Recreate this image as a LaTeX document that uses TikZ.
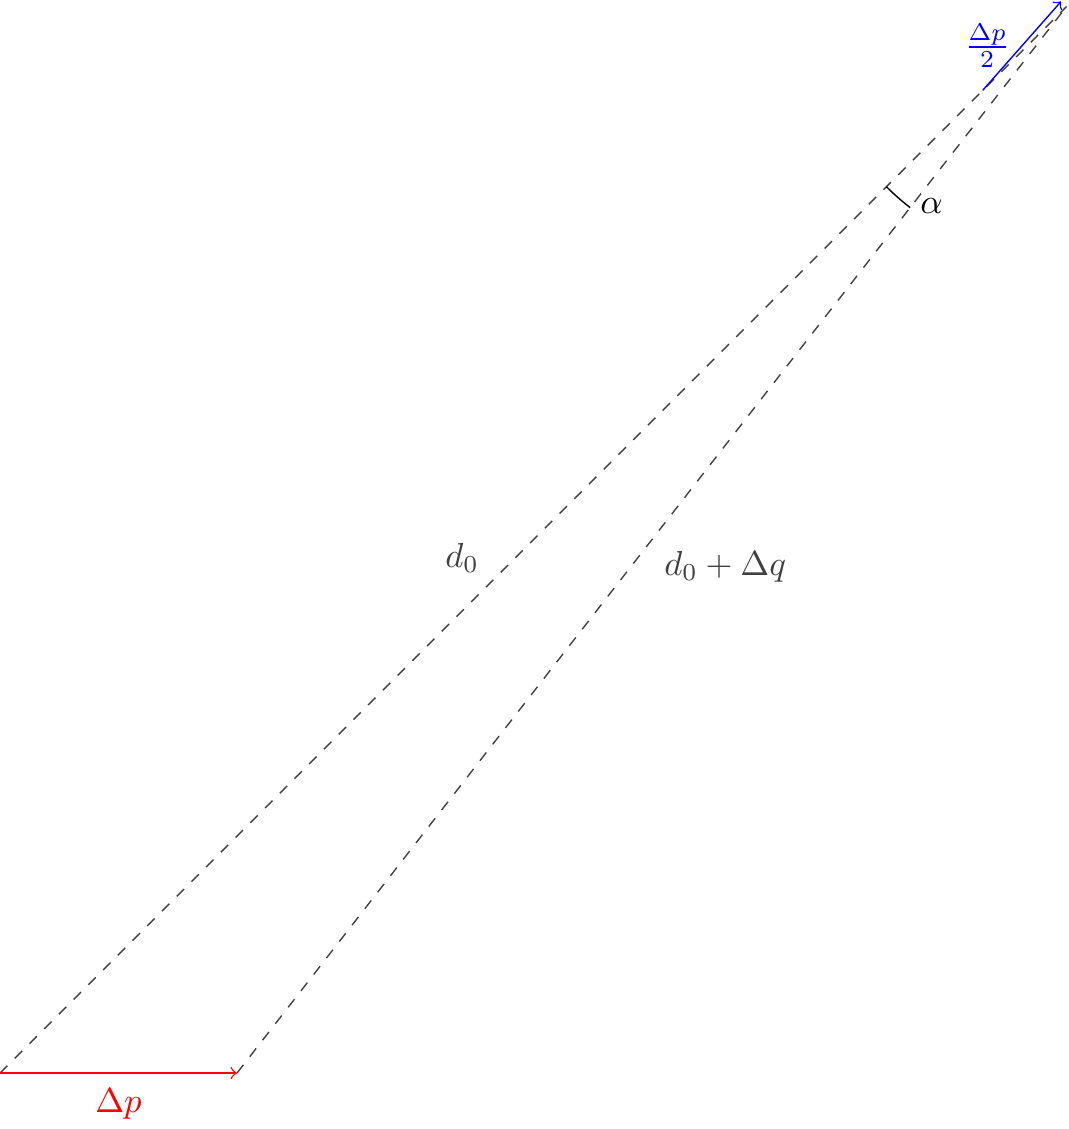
\documentclass[tikz,border=0pt]{standalone}
\usepackage{amsmath,amssymb}
\usepackage{tikz}
\usetikzlibrary{calc}

\begin{document}
\begin{tikzpicture}[x=1.2cm,y=1.2cm,
  ray/.style={dashed,black!75},
  lbl/.style={text=black!75}]
  \useasboundingbox (0,-0.472) rectangle (9.013,9.055);
  \coordinate (A) at (0,0);
  \coordinate (B) at (2,0);
  \coordinate (C) at (9,9);
  \draw[ray] (A)--(C);
  \draw[ray] (B)--(C);
  \draw[->,red] (A)--(B) node[midway,below=1pt]{$\Delta p$};
  \node[lbl] (d0) at (3.9,4.35) {$d_0$};
  \node[lbl] (d1) at (6.12,4.27) {$d_0+\Delta q$};
  % angle between the two rays
  \draw ([shift={(225:2.15)}]C) arc[start angle=225,end angle=232.13,radius=2.15];
  \node (al) at (7.86,7.32) {$\alpha$};
  \coordinate (P) at ($(C)!1.2cm!(A)$);
  \draw[->,blue] (P)-- ++(48.6:1);
  \node[blue] (hp) at (8.33,8.67) {$\frac{\Delta p}{2}$};
\end{tikzpicture}
\end{document}
